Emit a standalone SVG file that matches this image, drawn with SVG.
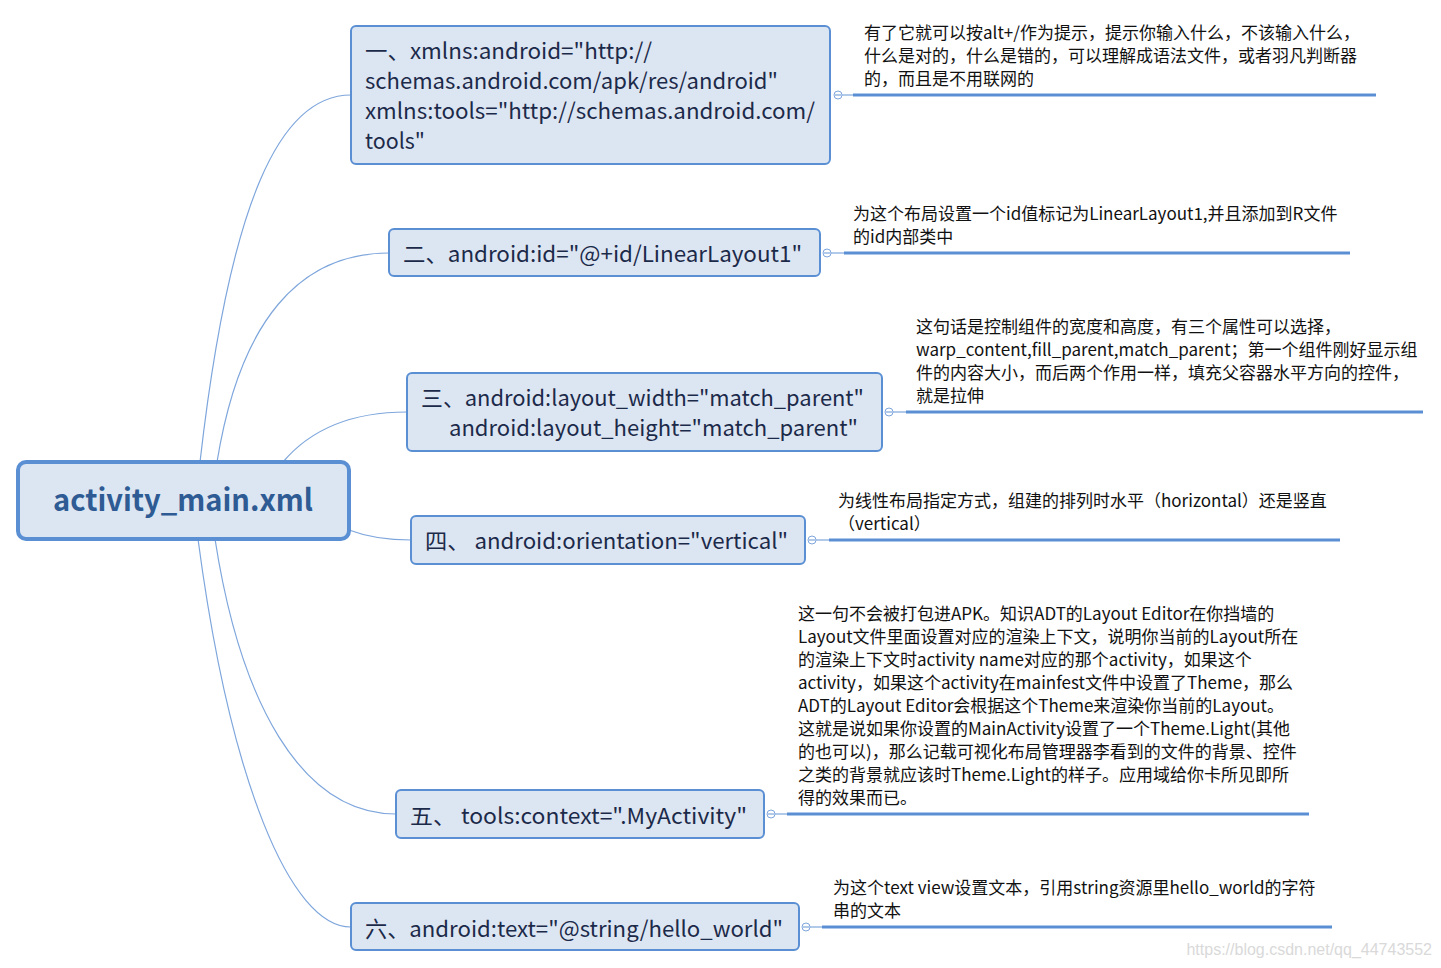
<svg xmlns="http://www.w3.org/2000/svg" width="1441" height="968" viewBox="0 0 1441 968">
<style>
.bg{fill:#ffffff}
.node{fill:#dce6f2;stroke:#5b8fd4;stroke-width:2}
.root{fill:#dce6f2;stroke:#5b8fd4;stroke-width:4}
.t{font-family:"Noto Sans CJK SC","Noto Sans",sans-serif;font-size:22px;fill:#1c2a4a}
.rt{font-family:"Noto Sans CJK SC","Noto Sans",sans-serif;font-size:30px;font-weight:bold;fill:#2e5b94}
.n{font-family:"Noto Sans CJK SC","Noto Sans",sans-serif;font-size:17px;fill:#111111}
.c{fill:none;stroke:#7ea6dc;stroke-width:1.2}
.ul{fill:none;stroke:#5b8fd4;stroke-width:3}
.tl{fill:none;stroke:#7ea6dc;stroke-width:1.2}
.cc{fill:#ffffff;stroke:#7ea6dc;stroke-width:1}
.wm{font-family:"Liberation Sans",Arial,sans-serif;font-size:16px;fill:#d9d9d9}
</style>
<rect class="bg" x="0" y="0" width="1441" height="968"/>
<g id="connectors">
<path class="c" d="M200,462 C230,200 280,95 351,95"/>
<path class="c" d="M217,462 C240,320 300,253 389,253"/>
<path class="c" d="M283,462 C310,430 350,412 407,412"/>
<path class="c" d="M349,530 C370,538 390,540 411,540"/>
<path class="c" d="M215,539 C240,700 300,814 396,814"/>
<path class="c" d="M198,539 C230,780 290,927 351,927"/>
<path class="tl" d="M842,95 H853"/><path class="ul" d="M853,95 H1376"/>
<path class="tl" d="M831,253 H844"/><path class="ul" d="M844,253 H1350"/>
<path class="tl" d="M893,412 H906"/><path class="ul" d="M906,412 H1423"/>
<path class="tl" d="M816,540 H829"/><path class="ul" d="M829,540 H1340"/>
<path class="tl" d="M775,814 H787"/><path class="ul" d="M787,814 H1309"/>
<path class="tl" d="M810,927 H822"/><path class="ul" d="M822,927 H1332"/>
<g id="collapse">
<circle class="cc" cx="838" cy="95" r="4"/><path class="tl" d="M835,95 H841"/>
<circle class="cc" cx="827" cy="253" r="4"/><path class="tl" d="M824,253 H830"/>
<circle class="cc" cx="889" cy="412" r="4"/><path class="tl" d="M886,412 H892"/>
<circle class="cc" cx="812" cy="540" r="4"/><path class="tl" d="M809,540 H815"/>
<circle class="cc" cx="771" cy="814" r="4"/><path class="tl" d="M768,814 H774"/>
<circle class="cc" cx="806" cy="927" r="4"/><path class="tl" d="M803,927 H809"/>
</g>
</g>
<g id="root">
<rect class="root" x="18" y="462" width="331" height="77" rx="8"/>
<text class="rt" x="53" y="511" textLength="260" lengthAdjust="spacingAndGlyphs">activity_main.xml</text>
</g>
<g id="node1">
<rect class="node" x="351" y="26" width="479" height="138" rx="5"/>
<text class="t" x="365" y="59" textLength="287" lengthAdjust="spacingAndGlyphs">一、xmlns:android="http://</text>
<text class="t" x="365" y="89" textLength="413" lengthAdjust="spacingAndGlyphs">schemas.android.com/apk/res/android"</text>
<text class="t" x="365" y="119" textLength="450" lengthAdjust="spacingAndGlyphs">xmlns:tools="http://schemas.android.com/</text>
<text class="t" x="365" y="149" textLength="60" lengthAdjust="spacingAndGlyphs">tools"</text>
</g>
<g id="node2">
<rect class="node" x="389" y="229" width="431" height="47" rx="5"/>
<text class="t" x="403" y="262" textLength="399" lengthAdjust="spacingAndGlyphs">二、android:id="@+id/LinearLayout1"</text>
</g>
<g id="node3">
<rect class="node" x="407" y="373" width="475" height="78" rx="5"/>
<text class="t" x="421" y="406" textLength="443" lengthAdjust="spacingAndGlyphs">三、android:layout_width="match_parent"</text>
<text class="t" x="449" y="436" textLength="409" lengthAdjust="spacingAndGlyphs">android:layout_height="match_parent"</text>
</g>
<g id="node4">
<rect class="node" x="411" y="516" width="394" height="48" rx="5"/>
<text class="t" x="425" y="549" textLength="363" lengthAdjust="spacingAndGlyphs">四、 android:orientation="vertical"</text>
</g>
<g id="node5">
<rect class="node" x="396" y="790" width="368" height="48" rx="5"/>
<text class="t" x="410" y="824" textLength="337" lengthAdjust="spacingAndGlyphs">五、 tools:context=".MyActivity"</text>
</g>
<g id="node6">
<rect class="node" x="351" y="903" width="448" height="47" rx="5"/>
<text class="t" x="365" y="937" textLength="418" lengthAdjust="spacingAndGlyphs">六、android:text="@string/hello_world"</text>
</g>
<g id="note1">
<text class="n" x="864" y="39">有了它就可以按alt+/作为提示，提示你输入什么，不该输入什么，</text>
<text class="n" x="864" y="62">什么是对的，什么是错的，可以理解成语法文件，或者羽凡判断器</text>
<text class="n" x="864" y="85">的，而且是不用联网的</text>
</g>
<g id="note2">
<text class="n" x="853" y="220">为这个布局设置一个id值标记为LinearLayout1,并且添加到R文件</text>
<text class="n" x="853" y="243">的id内部类中</text>
</g>
<g id="note3">
<text class="n" x="916" y="333">这句话是控制组件的宽度和高度，有三个属性可以选择，</text>
<text class="n" x="916" y="356">warp_content,fill_parent,match_parent；第一个组件刚好显示组</text>
<text class="n" x="916" y="379">件的内容大小，而后两个作用一样，填充父容器水平方向的控件，</text>
<text class="n" x="916" y="402">就是拉伸</text>
</g>
<g id="note4">
<text class="n" x="838" y="507">为线性布局指定方式，组建的排列时水平（horizontal）还是竖直</text>
<text class="n" x="838" y="530">（vertical）</text>
</g>
<g id="note5">
<text class="n" x="798" y="620">这一句不会被打包进APK。知识ADT的Layout Editor在你挡墙的</text>
<text class="n" x="798" y="643">Layout文件里面设置对应的渲染上下文，说明你当前的Layout所在</text>
<text class="n" x="798" y="666">的渲染上下文时activity name对应的那个activity，如果这个</text>
<text class="n" x="798" y="689">activity，如果这个activity在mainfest文件中设置了Theme，那么</text>
<text class="n" x="798" y="712">ADT的Layout Editor会根据这个Theme来渲染你当前的Layout。</text>
<text class="n" x="798" y="735">这就是说如果你设置的MainActivity设置了一个Theme.Light(其他</text>
<text class="n" x="798" y="758">的也可以)，那么记载可视化布局管理器李看到的文件的背景、控件</text>
<text class="n" x="798" y="781">之类的背景就应该时Theme.Light的样子。应用域给你卡所见即所</text>
<text class="n" x="798" y="804">得的效果而已。</text>
</g>
<g id="note6">
<text class="n" x="833" y="894">为这个text view设置文本，引用string资源里hello_world的字符</text>
<text class="n" x="833" y="917">串的文本</text>
</g>
<text class="wm" x="1432" y="955" text-anchor="end">https://blog.csdn.net/qq_44743552</text>
</svg>
